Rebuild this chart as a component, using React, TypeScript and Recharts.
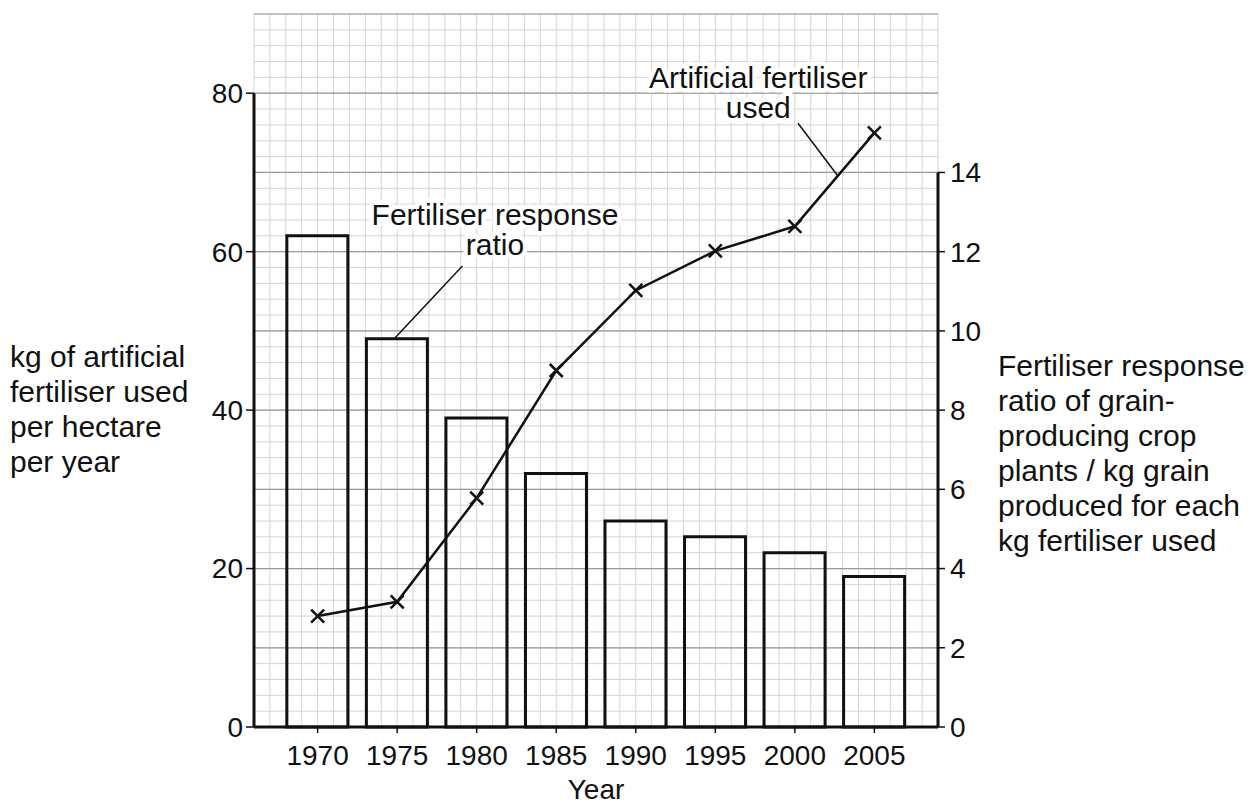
import React from 'react';
import {
  ComposedChart,
  Bar,
  Line,
  XAxis,
  YAxis,
  CartesianGrid,
  ReferenceLine,
  ReferenceDot,
} from 'recharts';

// ---- data ----
const years = [1970, 1975, 1980, 1985, 1990, 1995, 2000, 2005];
const fertiliserUsed = [14, 15.8, 28.9, 45, 55.1, 60.1, 63.2, 75]; // kg per hectare per year (left axis)
const responseRatio = [12.4, 9.8, 7.8, 6.4, 5.2, 4.8, 4.4, 3.8]; // kg grain per kg fertiliser (right axis)

const leftTicks = [0, 20, 40, 60, 80];
const rightTicks = [0, 2, 4, 6, 8, 10, 12, 14];
const xDomain = [1966, 2009];
const leftDomain = [0, 90];
const rightDomain = [0, 18];

const leftTitle = ['kg of artificial', 'fertiliser used', 'per hectare', 'per year'];
const rightTitle = [
  'Fertiliser response',
  'ratio of grain-',
  'producing crop',
  'plants / kg grain',
  'produced for each',
  'kg fertiliser used',
];
const ratioLabel = ['Fertiliser response', 'ratio'];
const usedLabel = ['Artificial fertiliser', 'used'];

const data = years.map((year, i) => ({
  year,
  used: fertiliserUsed[i],
  ratio: responseRatio[i],
}));

// grid lines (graph paper)
const minorH: number[] = [];
for (let v = leftDomain[0]; v <= leftDomain[1]; v += 2) minorH.push(v);
const majorH: number[] = [];
for (let v = leftDomain[0]; v <= leftDomain[1]; v += 10) majorH.push(v);
const minorV: number[] = [];
for (let v = xDomain[0]; v <= xDomain[1]; v += 1) minorV.push(v);

const FONT = '"Liberation Sans", Arial, Helvetica, sans-serif';
const INK = '#111';

const Cross = (props: any) => {
  const { cx, cy, index } = props;
  if (cx == null || cy == null) return <g key={`c-${index}`} />;
  const s = 6.5;
  return (
    <path
      key={`c-${index}`}
      d={`M${cx - s},${cy - s}L${cx + s},${cy + s}M${cx - s},${cy + s}L${cx + s},${cy - s}`}
      stroke={INK}
      strokeWidth={2.5}
      fill="none"
    />
  );
};

const Annotation = (props: any) => {
  const { cx, cy, lines } = props;
  if (cx == null || cy == null) return <g />;
  return (
    <g>
      {lines.map((l: string, i: number) => (
        <text
          key={i}
          x={cx}
          y={cy + i * 30}
          textAnchor="middle"
          fontFamily={FONT}
          fontSize={30}
          fill={INK}
          stroke="#fff"
          strokeWidth={9}
          strokeLinejoin="round"
          paintOrder="stroke"
        >
          {l}
        </text>
      ))}
    </g>
  );
};

const LeftTitle = () => (
  <text x={10} y={367} fontFamily={FONT} fontSize={30} fill={INK}>
    {leftTitle.map((l, i) => (
      <tspan key={i} x={10} dy={i === 0 ? 0 : 35}>
        {l}
      </tspan>
    ))}
  </text>
);

const RightTitle = () => (
  <text x={998} y={376} fontFamily={FONT} fontSize={30} fill={INK}>
    {rightTitle.map((l, i) => (
      <tspan key={i} x={998} dy={i === 0 ? 0 : 35}>
        {l}
      </tspan>
    ))}
  </text>
);

const XTitle = () => (
  <text x={596} y={799} textAnchor="middle" fontFamily={FONT} fontSize={28} fill={INK}>
    Year
  </text>
);

const tickStyle = { fontFamily: FONT, fontSize: 28, fill: INK };

export default function App() {
  return (
    <div style={{ position: 'absolute', left: 0, top: 0, width: 1254, height: 807, background: '#fff' }}>
      <ComposedChart
        width={1254}
        height={807}
        data={data}
        margin={{ top: 14, right: 256, bottom: 0, left: 194 }}
      >
        <CartesianGrid
          horizontalValues={minorH}
          verticalValues={minorV}
          stroke="#d4d4d4"
          strokeWidth={1}
          fill="none"
        />
        <CartesianGrid
          horizontalValues={majorH}
          vertical={false}
          stroke="#9a9a9a"
          strokeWidth={1.2}
          fill="none"
        />
        <XAxis
          dataKey="year"
          type="number"
          domain={xDomain}
          ticks={years}
          interval={0}
          height={80}
          tick={tickStyle}
          tickSize={6}
          tickMargin={12}
          tickLine={{ stroke: INK, strokeWidth: 1.5 }}
          axisLine={{ stroke: INK, strokeWidth: 3 }}
          allowDecimals={false}
          label={<XTitle />}
        />
        <YAxis
          yAxisId={0}
          type="number"
          domain={leftDomain}
          ticks={leftTicks}
          interval={0}
          width={60}
          tick={tickStyle}
          tickSize={8}
          tickMargin={3}
          tickLine={{ stroke: INK, strokeWidth: 1.5 }}
          axisLine={false}
          label={<LeftTitle />}
        />
        <YAxis
          yAxisId="r"
          orientation="right"
          type="number"
          domain={rightDomain}
          ticks={rightTicks}
          interval={0}
          width={60}
          tick={tickStyle}
          tickSize={7}
          tickMargin={5}
          tickLine={{ stroke: INK, strokeWidth: 1.5 }}
          axisLine={false}
          label={<RightTitle />}
        />
        <ReferenceLine
          yAxisId={0}
          segment={[
            { x: xDomain[0], y: 0 },
            { x: xDomain[0], y: leftTicks[leftTicks.length - 1] },
          ]}
          stroke={INK}
          strokeWidth={3}
          ifOverflow="visible"
        />
        <ReferenceLine
          yAxisId="r"
          segment={[
            { x: xDomain[1], y: 0 },
            { x: xDomain[1], y: rightTicks[rightTicks.length - 1] },
          ]}
          stroke={INK}
          strokeWidth={3}
          ifOverflow="visible"
        />
        <Bar
          yAxisId="r"
          dataKey="ratio"
          barSize={61}
          fill="none"
          stroke={INK}
          strokeWidth={3}
          isAnimationActive={false}
        />
        <Line
          yAxisId={0}
          dataKey="used"
          type="linear"
          stroke={INK}
          strokeWidth={2.5}
          dot={Cross}
          activeDot={false}
          isAnimationActive={false}
        />
        <ReferenceLine
          yAxisId={0}
          segment={[
            { x: 1974.86, y: 49.1 },
            { x: 1979.1, y: 58.2 },
          ]}
          stroke={INK}
          strokeWidth={1.5}
          ifOverflow="visible"
        />
        <ReferenceLine
          yAxisId={0}
          segment={[
            { x: 2000.2, y: 76.2 },
            { x: 2002.67, y: 69.65 },
          ]}
          stroke={INK}
          strokeWidth={1.5}
          ifOverflow="visible"
        />
        <ReferenceDot
          yAxisId={0}
          x={1981.15}
          y={63.34}
          r={0}
          ifOverflow="visible"
          shape={(p: any) => <Annotation {...p} lines={ratioLabel} />}
        />
        <ReferenceDot
          yAxisId={0}
          x={1997.7}
          y={80.6}
          r={0}
          ifOverflow="visible"
          shape={(p: any) => <Annotation {...p} lines={usedLabel} />}
        />
      </ComposedChart>
    </div>
  );
}
